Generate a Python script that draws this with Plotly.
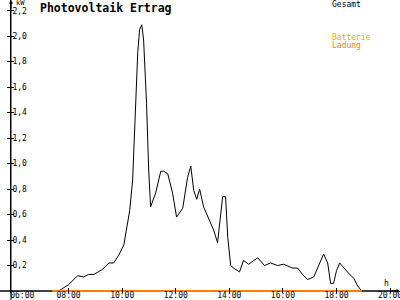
import plotly.graph_objects as go

# time in decimal hours
zeit = [7.63, 8.00, 8.34, 8.56, 8.75, 8.94, 9.27, 9.50, 9.68, 9.87, 10.06, 10.17, 10.28,
        10.39, 10.47, 10.58, 10.65, 10.73, 10.80, 10.91, 10.99, 11.06, 11.25, 11.44, 11.55,
        11.70, 11.88, 12.03, 12.26, 12.44, 12.56, 12.67, 12.78, 12.89, 13.04, 13.23, 13.41,
        13.56, 13.75, 13.86, 13.94, 14.05, 14.16, 14.38, 14.53, 14.72, 15.06, 15.31, 15.54,
        15.80, 16.03, 16.36, 16.55, 16.73, 16.92, 17.15, 17.33, 17.52, 17.67, 17.78, 17.89,
        18.00, 18.12, 18.27, 18.45, 18.64, 18.79, 18.90, 18.97]
gesamt = [0.00, 0.05, 0.12, 0.11, 0.13, 0.13, 0.17, 0.22, 0.22, 0.28, 0.36, 0.49, 0.63,
          0.87, 1.34, 1.87, 2.05, 2.09, 1.97, 1.47, 0.95, 0.66, 0.77, 0.94, 0.94,
          0.92, 0.77, 0.58, 0.65, 0.89, 0.98, 0.79, 0.72, 0.80, 0.66, 0.57, 0.48,
          0.38, 0.74, 0.74, 0.42, 0.20, 0.18, 0.15, 0.24, 0.21, 0.26, 0.20, 0.22,
          0.20, 0.21, 0.18, 0.18, 0.13, 0.09, 0.11, 0.20, 0.29, 0.22, 0.06, 0.06,
          0.16, 0.22, 0.18, 0.14, 0.10, 0.04, 0.01, 0.00]
lade_zeit = [7.40, 18.95]
batterie = [0.0, 0.0]
ladung = [0.0, 0.0]

x_ticks = [6, 8, 10, 12, 14, 16, 18, 20]
x_labels = ["\u00a0\u00a0\u00a006:00", "08:00", "10:00", "12:00", "14:00", "16:00", "18:00", "20:00"]
y_ticks = [0.2, 0.4, 0.6, 0.8, 1.0, 1.2, 1.4, 1.6, 1.8, 2.0, 2.2]
y_labels = ["0,2", "0,4", "0,6", "0,8", "1,0", "1,2", "1,4", "1,6", "1,8", "2,0", "2,2"]

XR = [5.85, 20.37]
YR = [-0.0157, 2.284]
MONO = "DejaVu Sans Mono"
PH = 300.0  # paper height (no top/bottom margin)

fig = go.Figure()
fig.add_trace(go.Scatter(x=zeit, y=gesamt, mode="lines", line=dict(color="black", width=1),
                         name="Gesamt"))
fig.add_trace(go.Scatter(x=lade_zeit, y=batterie, mode="lines",
                         line=dict(color="#FFB000", width=2), name="Batterie"))
fig.add_trace(go.Scatter(x=lade_zeit, y=ladung, mode="lines", line=dict(color="#FF8000", width=2),
                         name="Ladung"))
# helper axes: y2 = inner half of the cross ticks, x2/y3 = time labels just under the baseline
fig.add_trace(go.Scatter(x=[None], y=[None], xaxis="x", yaxis="y2", showlegend=False,
                         hoverinfo="skip"))
fig.add_trace(go.Scatter(x=[None], y=[None], xaxis="x2", yaxis="y3", showlegend=False,
                         hoverinfo="skip"))

axfont = dict(family=MONO, size=8, color="black")
DOM = [7 / PH, 1.0]
fig.update_layout(
    width=400, height=300,
    margin=dict(l=11, r=0, t=0, b=0),
    paper_bgcolor="white", plot_bgcolor="rgba(0,0,0,0)",
    showlegend=False,
    xaxis=dict(range=XR, tickvals=x_ticks, ticks="inside", ticklen=5, automargin=False,
               tickcolor="black", showgrid=False, zeroline=False, showline=False,
               showticklabels=False),
    yaxis=dict(range=YR, domain=DOM, tickvals=y_ticks, ticktext=y_labels, ticks="outside",
               ticklen=3, tickcolor="black", showgrid=False, zeroline=False, showline=True,
               automargin=False, linecolor="black", linewidth=1, ticklabelposition="inside",
               tickfont=axfont),
    yaxis2=dict(range=YR, domain=DOM, overlaying="y", anchor="x", tickvals=y_ticks,
                ticks="inside", ticklen=3, automargin=False, tickcolor="black",
                showticklabels=False, showgrid=False, zeroline=False),
    xaxis2=dict(range=XR, anchor="y3", tickvals=x_ticks, ticktext=x_labels,
                ticks="", automargin=False, showgrid=False, zeroline=False, showline=False,
                tickfont=axfont, ticklabelstandoff=0, ticklabeloverflow="allow"),
    yaxis3=dict(range=YR, domain=[(PH - 289) / PH, 1.0], anchor="x2", visible=False,
                showgrid=False, zeroline=False),
    shapes=[
        dict(type="line", xref="paper", yref="y", x0=-0.03, x1=0.995, y0=0, y1=0,
             line=dict(color="black", width=1.5), layer="below"),
        dict(type="line", xref="paper", yref="paper", x0=0, x1=0, y0=0, y1=1.0,
             line=dict(color="black", width=1)),
    ],
    annotations=[
        dict(text="<b>Photovoltaik Ertrag</b>", xref="paper", yref="paper", x=27/389, y=1.0,
             xanchor="left", yanchor="top", showarrow=False,
             font=dict(family=MONO, size=11.5, color="black"), yshift=1),
        dict(text="kW", xref="paper", yref="paper", x=3/389, y=1.0, xanchor="left", yanchor="top",
             showarrow=False, font=dict(family=MONO, size=7, color="black"), yshift=3),
        dict(text="Gesamt", xref="paper", yref="paper", x=319/389, y=1.0, xanchor="left",
             yanchor="top", showarrow=False, font=dict(family=MONO, size=8, color="black"), yshift=2),
        dict(text="Batterie", xref="paper", yref="paper", x=319/389, y=1 - 31/PH, xanchor="left",
             yanchor="top", showarrow=False, font=dict(family=MONO, size=8, color="#FFA800")),
        dict(text="Ladung", xref="paper", yref="paper", x=319/389, y=1 - 39/PH, xanchor="left",
             yanchor="top", showarrow=False, font=dict(family=MONO, size=8, color="#FF8000")),
        dict(text="h", xref="x", yref="paper", x=20.0, y=1 - 283/PH,
             xanchor="center", yanchor="middle", showarrow=False, xshift=-4,
             font=dict(family=MONO, size=8, color="black")),
        dict(text="", xref="paper", yref="paper", x=0, y=1.0, ax=0, ay=10, showarrow=True,
             arrowhead=1, arrowsize=0.8, arrowwidth=1, arrowcolor="black", standoff=0),
        dict(text="", xref="paper", yref="y", x=1.0, y=0, ax=-10, ay=0, showarrow=True,
             arrowhead=1, arrowsize=0.8, arrowwidth=1, arrowcolor="black", standoff=0),
    ],
)

fig.write_html("out.html")
